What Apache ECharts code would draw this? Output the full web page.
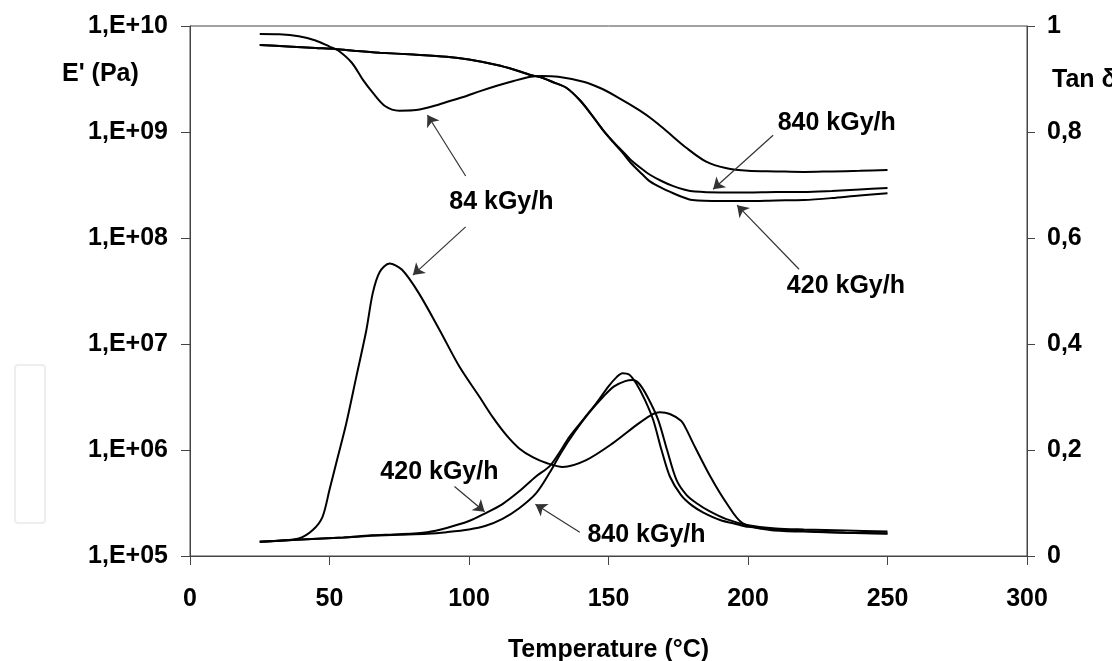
<!DOCTYPE html>
<html>
<head>
<meta charset="utf-8">
<script src="https://cdn.jsdelivr.net/npm/echarts@6/dist/echarts.min.js"></script>
<style>
html,body{margin:0;padding:0;background:#fff;}
#chart{width:1112px;height:661px;}
</style>
</head>
<body>
<div id="chart"></div>
<script>
// ---- Storage modulus E' (Pa), left log axis ----
const T_E84 = [25, 32, 39, 45, 50, 53, 58, 62, 65.5, 70, 75, 80, 86, 92, 98, 104, 110, 116, 122, 126, 132, 141, 147, 153, 161, 166, 171, 178, 185, 192, 200, 210, 220, 230, 240, 250];
const E84 = [8.4e9, 8.35e9, 8.0e9, 7.3e9, 6.4e9, 5.9e9, 4.5e9, 3.1e9, 2.35e9, 1.75e9, 1.59e9, 1.6e9, 1.72e9, 1.92e9, 2.14e9, 2.43e9, 2.73e9, 3.03e9, 3.32e9, 3.38e9, 3.32e9, 2.98e9, 2.6e9, 2.15e9, 1.61e9, 1.3e9, 1.01e9, 7.06e8, 5.25e8, 4.57e8, 4.3e8, 4.25e8, 4.2e8, 4.25e8, 4.3e8, 4.38e8];

const T_E420 = [25, 35, 45, 52, 60, 68, 80, 92, 100, 110, 116, 122, 126, 130, 135, 140, 144.5, 148, 151.5, 155, 158, 162, 165, 169, 173, 177, 180, 190, 200, 210, 220, 230, 240, 250];
const E420 = [6.62e9, 6.41e9, 6.2e9, 6.07e9, 5.81e9, 5.6e9, 5.38e9, 5.13e9, 4.83e9, 4.29e9, 3.89e9, 3.45e9, 3.27e9, 2.96e9, 2.6e9, 1.96e9, 1.39e9, 1.04e9, 8.1e8, 6.4e8, 5.1e8, 4.02e8, 3.4e8, 2.97e8, 2.66e8, 2.41e8, 2.28e8, 2.23e8, 2.23e8, 2.26e8, 2.28e8, 2.38e8, 2.52e8, 2.64e8];

const T_E840 = [25, 35, 45, 52, 60, 68, 80, 92, 100, 110, 116, 122, 126, 130, 135, 140, 144.5, 148, 151.5, 155, 158, 162, 165, 169, 173, 177, 181, 190, 200, 210, 220, 230, 240, 250];
const E840 = [6.62e9, 6.41e9, 6.2e9, 6.07e9, 5.81e9, 5.6e9, 5.38e9, 5.13e9, 4.83e9, 4.29e9, 3.89e9, 3.45e9, 3.27e9, 2.96e9, 2.6e9, 1.96e9, 1.39e9, 1.05e9, 8.2e8, 6.6e8, 5.45e8, 4.48e8, 3.93e8, 3.45e8, 3.1e8, 2.87e8, 2.74e8, 2.69e8, 2.69e8, 2.72e8, 2.72e8, 2.78e8, 2.87e8, 2.97e8];

// ---- Loss factor tan delta, right axis ----
const T_TAN84 = [25, 32, 39, 44, 47.5, 50, 52.4, 56, 59.6, 63.2, 65.5, 68, 71.5, 76, 82, 89.5, 96.6, 103.8, 108.5, 113.4, 118, 123, 128, 133.6, 142, 151.6, 160, 165, 168.4, 172, 176, 178, 180.3, 186.5, 192.4, 198, 207.8, 220, 235, 250];
const TAN84 = [0.027, 0.029, 0.033, 0.049, 0.074, 0.125, 0.175, 0.25, 0.338, 0.426, 0.496, 0.536, 0.552, 0.540, 0.496, 0.426, 0.357, 0.30, 0.262, 0.228, 0.203, 0.186, 0.175, 0.168, 0.181, 0.213, 0.247, 0.265, 0.271, 0.268, 0.255, 0.238, 0.213, 0.150, 0.099, 0.062, 0.049, 0.046, 0.044, 0.043];

const T_TAN420 = [25, 40, 55, 65, 75, 85, 92, 100, 105.6, 112, 118, 124, 129, 133, 136, 141, 145.6, 150, 153, 155, 157.5, 160, 163, 166, 169, 172, 176, 180, 184, 190, 196, 200, 210, 220, 235, 250];
const TAN420 = [0.027, 0.031, 0.035, 0.039, 0.041, 0.045, 0.053, 0.066, 0.08, 0.098, 0.122, 0.15, 0.17, 0.2, 0.225, 0.258, 0.288, 0.32, 0.338, 0.345, 0.342, 0.325, 0.295, 0.257, 0.2, 0.15, 0.115, 0.095, 0.082, 0.068, 0.06, 0.055, 0.05, 0.047, 0.044, 0.042];

const T_TAN840 = [25, 40, 55, 65, 75, 85, 92, 100, 106, 112, 118, 124, 129, 133, 138, 143, 148, 152, 156, 158.7, 161, 164, 167.8, 171, 174.4, 178, 182, 186, 192, 200, 210, 220, 235, 250];
const TAN840 = [0.027, 0.031, 0.035, 0.038, 0.04, 0.042, 0.045, 0.05, 0.057, 0.07, 0.09, 0.118, 0.158, 0.195, 0.235, 0.27, 0.3, 0.32, 0.33, 0.332, 0.325, 0.3, 0.257, 0.2, 0.143, 0.115, 0.098, 0.085, 0.07, 0.058, 0.052, 0.05, 0.048, 0.046];

// ---- Axis ticks ----
const X_TICKS = [0, 50, 100, 150, 200, 250, 300];
const TAN_TICKS = [0, 0.2, 0.4, 0.6, 0.8, 1];

// ---- Annotations (in temperature / tan delta coordinates) ----
const NOTE_TEXT = ['84 kGy/h', '420 kGy/h', '840 kGy/h', '840 kGy/h', '420 kGy/h'];
const NOTE_POS = [[111.6, 0.668], [89.4, 0.159], [163.6, 0.040], [231.8, 0.8175], [235.1, 0.509]];
const ARROWS = [
  [[98.8, 0.717], [85.1, 0.832]],
  [[98.8, 0.621], [79.9, 0.530]],
  [[94.8, 0.131], [105.6, 0.0836]],
  [[139.7, 0.0447], [123.8, 0.0975]],
  [[209.0, 0.794], [187.5, 0.692]],
  [[218.3, 0.541], [196.1, 0.662]]
];

const zip = (a, b) => a.map((v, i) => [v, b[i]]);
const FONT = 'Liberation Sans, Arial, sans-serif';

const lineSeries = (name, xs, ys, axis) => ({
  name, type: 'line', yAxisIndex: axis, data: zip(xs, ys),
  showSymbol: false, smooth: 0.3, silent: true,
  lineStyle: { color: '#000', width: 2 }, z: 3
});

const chart = echarts.init(document.getElementById('chart'), null, { renderer: 'canvas' });
chart.setOption({
  animation: false,
  backgroundColor: '#fff',
  grid: { left: 190, right: 85, top: 26, bottom: 105, containLabel: false, outerBoundsMode: 'none',
    show: true, borderColor: '#444', borderWidth: 1 },
  xAxis: {
    type: 'value', min: 0, max: 300, interval: 50,
    axisLine: { show: true, lineStyle: { color: '#444', width: 1 } },
    axisTick: { show: true, inside: false, length: 9, lineStyle: { color: '#444' } },
    splitLine: { show: false },
    axisLabel: { color: '#000', fontFamily: FONT, fontWeight: 'bold', fontSize: 25, margin: 31,
      formatter: v => X_TICKS.includes(v) ? String(v) : '' },
    name: 'Temperature (°C)', nameLocation: 'middle', nameGap: 82,
    nameTextStyle: { color: '#000', fontFamily: FONT, fontWeight: 'bold', fontSize: 25 }
  },
  yAxis: [
    {
      type: 'log', logBase: 10, min: 1e5, max: 1e10,
      axisLine: { show: true, onZero: false, lineStyle: { color: '#444', width: 1 } },
      axisTick: { show: true, length: 9, lineStyle: { color: '#444' } },
      minorTick: { show: false }, splitLine: { show: false },
      axisLabel: { color: '#000', fontFamily: FONT, fontWeight: 'bold', fontSize: 25, margin: 22,
        formatter: v => '1,E+' + String(Math.round(Math.log10(v))).padStart(2, '0') }
    },
    {
      type: 'value', min: 0, max: 1, interval: 0.2, position: 'right',
      axisLine: { show: true, onZero: false, lineStyle: { color: '#444', width: 1 } },
      axisTick: { show: true, length: 8, lineStyle: { color: '#444' } },
      splitLine: { show: false },
      axisLabel: { color: '#000', fontFamily: FONT, fontWeight: 'bold', fontSize: 25, margin: 20,
        formatter: v => {
          const t = TAN_TICKS.find(k => Math.abs(k - v) < 1e-6);
          if (t === undefined) return '';
          return (t === 0 || t === 1) ? String(t) : t.toFixed(1).replace('.', ',');
        } }
    }
  ],
  series: [
    lineSeries("E' 84 kGy/h", T_E84, E84, 0),
    lineSeries("E' 420 kGy/h", T_E420, E420, 0),
    lineSeries("E' 840 kGy/h", T_E840, E840, 0),
    lineSeries('tan 84 kGy/h', T_TAN84, TAN84, 1),
    lineSeries('tan 420 kGy/h', T_TAN420, TAN420, 1),
    lineSeries('tan 840 kGy/h', T_TAN840, TAN840, 1),
    {
      name: 'notes', type: 'scatter', yAxisIndex: 1, symbolSize: 0, silent: true, z: 5,
      itemStyle: { opacity: 1, color: '#000' },
      data: NOTE_POS.map((p, i) => ({ value: p, name: NOTE_TEXT[i] })),
      label: { show: true, position: 'inside', formatter: p => p.name, color: '#000', opacity: 1,
        fontFamily: FONT, fontWeight: 'bold', fontSize: 25 },
      markLine: {
        silent: true, symbol: ['none', 'arrow'], symbolSize: 11, precision: 4,
        label: { show: false },
        lineStyle: { color: '#333', width: 1.2, type: 'solid', opacity: 1 },
        data: ARROWS.map(a => [{ coord: a[0] }, { coord: a[1] }])
      }
    }
  ],
  graphic: [
    { type: 'text', left: 62, top: 62, style: { text: "E' (Pa)", fill: '#000', font: 'bold 25px ' + FONT } },
    { type: 'text', left: 1052, top: 68, style: { text: 'Tan δ', fill: '#000', font: 'bold 25px ' + FONT } },
    { type: 'rect', shape: { x: 15, y: 365, width: 30, height: 158, r: 3 }, style: { fill: 'none', stroke: '#eeeeee', lineWidth: 2 } }
  ]
});
</script>
</body>
</html>
